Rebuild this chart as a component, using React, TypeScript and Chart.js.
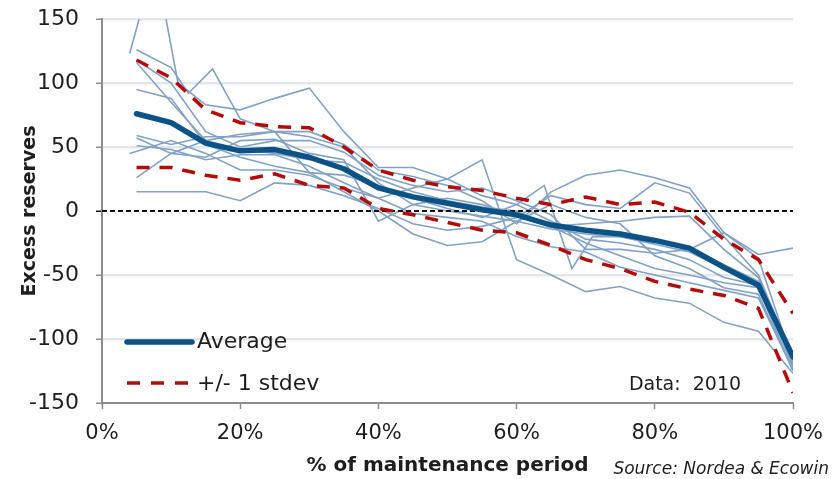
import React, { useEffect, useRef } from "react";
import { Chart, registerables } from "chart.js";

Chart.register(...registerables);

// ---- Data ----
const xPct = [5, 10, 15, 20, 25, 30, 35, 40, 45, 50, 55, 60, 65, 70, 75, 80, 85, 90, 95, 100];
const average = [76, 69, 53, 47, 48, 42, 33, 18, 11, 6, 1, -3, -11, -15, -18, -23, -29, -44, -58, -114];
const upperStdev = [118, 104, 79, 69, 66, 65, 50, 32, 24, 19, 16, 10, 5, 11, 5, 7, -1, -22, -38, -80];
const lowerStdev = [34, 34, 28, 24, 29, 20, 18, 2, -3, -9, -15, -17, -27, -38, -45, -55, -61, -66, -76, -142];

const periodA: [number, number][] = [[4, 123], [6.5, 172], [8.5, 172], [11, 100], [15, 83], [20, 79], [25, 88], [30, 96], [35, 62], [40, 34], [45, 34], [50, 25], [55, 12], [60, 5], [65, -8], [70, -22], [75, -25], [80, -30], [85, -38], [90, -52], [95, -58], [100, -120]];
const periodB: [number, number][] = [[5, 126], [10, 112], [12.5, 92], [16, 111], [20, 72], [25, 62], [30, 62], [35, 52], [40, 32], [45, 27], [50, 20], [55, 8], [60, -10], [65, 15], [70, 28], [75, 32], [80, 26], [85, 18], [90, -17], [95, -37], [100, -118]];
const periodC: [number, number][] = [[5, 118], [10, 100], [15, 62], [20, 50], [25, 55], [30, 55], [35, 46], [40, 28], [45, 20], [50, 15], [55, 18], [60, 8], [65, -3], [70, -30], [75, -30], [80, -33], [85, -30], [90, -17], [95, -34], [100, -29]];
const periodD: [number, number][] = [[5, 116], [10, 85], [15, 55], [20, 48], [25, 45], [30, 40], [35, 38], [40, 25], [45, 15], [50, 8], [55, 3], [60, 0], [65, -12], [70, -25], [75, -35], [80, -45], [85, -50], [90, -56], [95, -60], [100, -125]];
const periodE: [number, number][] = [[5, 95], [10, 88], [15, 52], [20, 42], [25, 35], [30, 30], [35, 28], [40, 20], [45, 10], [50, 2], [55, -5], [60, 5], [64, 20], [68, -45], [71, -20], [75, -20], [80, -24], [85, -28], [90, -42], [95, -55], [100, -122]];
const periodF: [number, number][] = [[5, 59], [10, 52], [15, 58], [20, 58], [25, 62], [30, 58], [35, 50], [40, 22], [45, 5], [50, 0], [55, -4], [60, -8], [65, -14], [70, -18], [75, -20], [80, -26], [85, -32], [90, -45], [95, -57], [100, -118]];
const periodG: [number, number][] = [[5, 57], [10, 45], [15, 42], [20, 55], [25, 56], [30, 45], [35, 40], [40, -8], [45, 5], [50, 10], [55, 5], [60, -4], [65, -12], [70, -10], [75, -8], [80, -5], [85, -4], [90, -30], [95, -52], [100, -120]];
const periodH: [number, number][] = [[5, 51], [10, 48], [15, 40], [20, 44], [25, 44], [30, 35], [35, 22], [40, 10], [45, -2], [50, -5], [55, -8], [60, -20], [65, -28], [70, -32], [75, -44], [80, -50], [85, -56], [90, -62], [95, -68], [100, -124]];
const periodI: [number, number][] = [[4, 45], [10, 55], [15, 45], [20, 32], [25, 32], [30, 28], [35, 18], [40, 10], [45, 18], [50, 25], [55, 40], [60, -38], [65, -50], [70, -63], [75, -59], [80, -68], [85, -72], [90, -87], [95, -94], [100, -127]];
const periodJ: [number, number][] = [[5, 26], [10, 45], [15, 55], [20, 60], [25, 62], [30, 30], [35, 15], [40, 0], [45, -18], [50, -27], [55, -24], [60, -8], [65, 5], [70, -5], [75, -10], [80, -35], [85, -45], [90, -60], [95, -65], [100, -125]];
const periodK: [number, number][] = [[5, 15], [10, 15], [15, 15], [20, 8], [25, 22], [30, 20], [35, 12], [40, 2], [45, -10], [50, -15], [55, -12], [60, -5], [65, 12], [70, 5], [75, 2], [80, 22], [85, 14], [90, -20], [95, -50], [100, -115]];

const periods = [periodA, periodB, periodC, periodD, periodE, periodF, periodG, periodH, periodI, periodJ, periodK];

const yTicks = [-150, -100, -50, 0, 50, 100, 150];
const xTicks = [0, 20, 40, 60, 80, 100];

const yTitle = "Excess reserves";
const xTitle = "% of maintenance period";
const legendAverage = "Average";
const legendStdev = "+/- 1 stdev";
const dataNote = "Data:  2010";
const sourceNote = "Source: Nordea & Ecowin";

// ---- Styles ----
const FONT = "'DejaVu Sans', Verdana, sans-serif";
const AVG_COLOR = "#0b5286";
const RED = "#b50a0a";
const THIN = "#82a2c5";
const AXIS = "#8c8c8c";
const GRID = "#e3e7ec";
const TEXT = "#1e1e1e";
const RED_DASH = [13, 10];

const toXY = (xs: number[], ys: number[]) => xs.map((x, i) => ({ x, y: ys[i] }));

const extrasPlugin = {
  id: "extras",
  afterDraw(chart: any) {
    const ctx = chart.ctx as CanvasRenderingContext2D;
    const area = chart.chartArea;
    ctx.save();
    // Axis titles
    ctx.fillStyle = TEXT;
    ctx.font = `bold 19px ${FONT}`;
    ctx.textAlign = "center";
    ctx.textBaseline = "middle";
    ctx.save();
    ctx.translate(30, (area.top + area.bottom) / 2);
    ctx.rotate(-Math.PI / 2);
    ctx.fillText(yTitle, 0, 0);
    ctx.restore();
    ctx.font = `bold 20px ${FONT}`;
    ctx.fillText(xTitle, (area.left + area.right) / 2, 466);

    // Legend
    const lx0 = area.left + 25;
    const lx1 = area.left + 90;
    ctx.lineCap = "round";
    ctx.strokeStyle = AVG_COLOR;
    ctx.lineWidth = 5.5;
    ctx.beginPath();
    ctx.moveTo(lx0, 342);
    ctx.lineTo(lx1, 342);
    ctx.stroke();
    ctx.lineCap = "butt";
    ctx.strokeStyle = RED;
    ctx.lineWidth = 3.5;
    ctx.setLineDash([13, 11]);
    ctx.beginPath();
    ctx.moveTo(lx0, 383);
    ctx.lineTo(lx1, 383);
    ctx.stroke();
    ctx.setLineDash([]);
    ctx.font = `22px ${FONT}`;
    ctx.textAlign = "left";
    ctx.fillStyle = TEXT;
    ctx.fillText(legendAverage, lx1 + 5, 342);
    ctx.fillText(legendStdev, lx1 + 5, 384);

    // Data note
    ctx.font = `19px ${FONT}`;
    ctx.textAlign = "center";
    ctx.fillText(dataNote, 685, 385);

    // Source
    ctx.font = `italic 17px ${FONT}`;
    ctx.textAlign = "right";
    ctx.fillText(sourceNote, 829, 470);
    ctx.restore();
  },
};

export default function App() {
  const ref = useRef<HTMLCanvasElement | null>(null);

  useEffect(() => {
    if (!ref.current) return;
    const datasets: any[] = [
      {
        label: "Average",
        data: toXY(xPct, average),
        borderColor: AVG_COLOR,
        borderWidth: 5.5,
        pointRadius: 0,
        borderJoinStyle: "round",
        borderCapStyle: "round",
        tension: 0,
      },
      {
        label: "+1 stdev",
        data: toXY(xPct, upperStdev),
        borderColor: RED,
        borderWidth: 3.5,
        borderDash: RED_DASH,
        pointRadius: 0,
        tension: 0,
      },
      {
        label: "-1 stdev",
        data: toXY(xPct, lowerStdev),
        borderColor: RED,
        borderWidth: 3.5,
        borderDash: RED_DASH,
        pointRadius: 0,
        tension: 0,
      },
      {
        label: "zero",
        data: [{ x: 0, y: 0 }, { x: 100, y: 0 }],
        borderColor: "#111",
        borderWidth: 2,
        borderDash: [5, 3],
        pointRadius: 0,
      },
      ...periods.map((p, i) => ({
        label: `period ${i + 1}`,
        data: p.map(([x, y]) => ({ x, y })),
        borderColor: THIN,
        borderWidth: 1.6,
        pointRadius: 0,
        tension: 0,
      })),
    ];

    const chart = new Chart(ref.current, {
      type: "line",
      data: { datasets },
      plugins: [extrasPlugin],
      options: {
        animation: false,
        responsive: false,
        parsing: true,
        layout: { padding: { left: 0, top: 19, right: 46, bottom: 0 } },
        plugins: { legend: { display: false }, tooltip: { enabled: false } },
        scales: {
          x: {
            type: "linear",
            min: 0,
            max: 100,
            afterBuildTicks: (s: any) => {
              s.ticks = xTicks.map((v) => ({ value: v }));
            },
            afterFit: (s: any) => {
              s.height = 76;
              s.paddingLeft = 0;
              s.paddingRight = 0;
            },
            ticks: {
              callback: (v: any) => `${v}%`,
              font: { family: FONT, size: 21 },
              color: TEXT,
              padding: 12,
              maxRotation: 0,
            },
            grid: {
              drawOnChartArea: false,
              drawTicks: true,
              tickLength: 6,
              tickColor: AXIS,
              tickWidth: 1.5,
            },
            border: { color: AXIS, width: 2 },
          },
          y: {
            type: "linear",
            min: -150,
            max: 150,
            afterBuildTicks: (s: any) => {
              s.ticks = yTicks.map((v) => ({ value: v }));
            },
            afterFit: (s: any) => {
              s.width = 102;
              s.paddingTop = 0;
              s.paddingBottom = 0;
            },
            ticks: {
              font: { family: FONT, size: 22 },
              color: TEXT,
              padding: 17,
            },
            grid: {
              color: (c: any) => (c.tick && (c.tick.value === 0 || c.tick.value === -150) ? "rgba(0,0,0,0)" : GRID),
              lineWidth: 2.5,
              tickLength: 6,
              tickColor: (c: any) => (c.tick && c.tick.value === 0 ? "#111" : AXIS),
              tickWidth: 1.5,
            },
            border: { color: AXIS, width: 2 },
          },
        },
      } as any,
    });
    return () => chart.destroy();
  }, []);

  return (
    <div style={{ position: "absolute", left: 0, top: 0, width: 839, height: 479, background: "#fff" }}>
      <canvas ref={ref} width={839} height={479} style={{ display: "block" }} />
    </div>
  );
}
